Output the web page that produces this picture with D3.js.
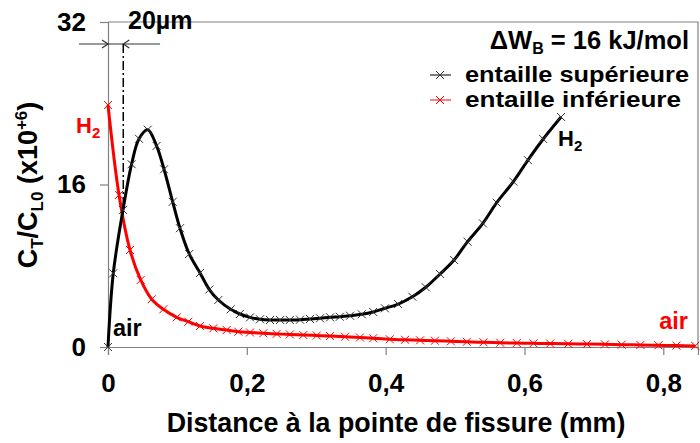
<!DOCTYPE html>
<html><head><meta charset="utf-8">
<script src="https://cdn.jsdelivr.net/npm/d3@7"></script>
<style>
body{margin:0;background:#fff}
svg{display:block}
text{font-family:"Liberation Sans",Arial,sans-serif;font-weight:bold}
</style>
</head><body>
<svg id="chart" width="700" height="443"></svg>
<script>
// ---- data ----
const supX = [0, 0.0076, 0.0216, 0.034, 0.0447, 0.0572, 0.070, 0.0807, 0.0932, 0.1037, 0.117, 0.1326, 0.146, 0.159, 0.1768, 0.190, 0.2046, 0.219, 0.2334, 0.248, 0.262, 0.2767, 0.291, 0.3055, 0.320, 0.334, 0.3487, 0.3656, 0.382, 0.399, 0.418, 0.4385, 0.4578, 0.4784, 0.4986, 0.518, 0.540, 0.560, 0.584, 0.605, 0.627, 0.6527];
const supY = [0, 7.26, 13.5, 18.0, 20.5, 21.4, 19.8, 17.5, 14.3, 11.7, 9.16, 7.29, 5.66, 4.63, 3.71, 3.25, 2.92, 2.73, 2.66, 2.66, 2.66, 2.69, 2.76, 2.83, 2.92, 2.98, 3.08, 3.22, 3.45, 3.81, 4.23, 4.95, 5.88, 7.19, 8.57, 10.37, 12.18, 14.21, 16.28, 18.4, 20.48, 22.65];
const infX = [0, 0.0159, 0.0317, 0.0471, 0.063, 0.0797, 0.099, 0.1157, 0.1326, 0.1517, 0.171, 0.1878, 0.2046, 0.2238, 0.243, 0.262, 0.2814, 0.3007, 0.320, 0.3415, 0.363, 0.382, 0.406, 0.428, 0.4496, 0.471, 0.494, 0.517, 0.541, 0.565, 0.589, 0.613, 0.637, 0.663, 0.690, 0.716, 0.740, 0.767, 0.793, 0.819, 0.846];
const infY = [23.83, 14.97, 9.55, 6.6, 4.7, 3.71, 2.92, 2.49, 2.07, 1.84, 1.67, 1.51, 1.43, 1.35, 1.29, 1.24, 1.18, 1.13, 1.08, 1.01, 0.94, 0.86, 0.76, 0.71, 0.66, 0.62, 0.56, 0.51, 0.46, 0.42, 0.39, 0.36, 0.34, 0.31, 0.29, 0.26, 0.23, 0.20, 0.17, 0.14, 0.11];
const xTicks = [0, 0.2, 0.4, 0.6, 0.8];
const xTickLabels = ["0", "0,2", "0,4", "0,6", "0,8"];
const yTicks = [0, 16, 32];
const yTickLabels = ["0", "16", "32"];
const seriesNames = ["entaille supérieure", "entaille inférieure"];
const notchWidth = 0.022;   // 20 µm marker position (mm)
const notchDepth = 13.6;    // where the dash-dot line stops

// ---- layout ----
const svg = d3.select("#chart");
const x = d3.scaleLinear().domain([0, 0.85]).range([108, 698]);
const y = d3.scaleLinear().domain([0, 32]).range([347, 22]);
const gray = "#808080";
const RED = "#ff0000";

// frame (top & right)
svg.append("path").attr("d", `M${x(0)},${y(32)}H${x(0.85)}V${y(0)}`)
  .attr("fill","none").attr("stroke",gray).attr("stroke-width",1.2);

// axes
const xAxis = d3.axisBottom(x).tickValues(xTicks).tickSize(8).tickFormat((d,i)=>xTickLabels[i]).tickPadding(19);
const gx = svg.append("g").attr("transform",`translate(0,${y(0)})`).call(xAxis);
const yAxis = d3.axisLeft(y).tickValues(yTicks).tickSize(8).tickFormat((d,i)=>yTickLabels[i]).tickPadding(14);
const gy = svg.append("g").attr("transform",`translate(${x(0)},0)`).call(yAxis);
[gx, gy].forEach(g => {
  g.select(".domain").attr("stroke",gray).attr("stroke-width",1.2);
  g.selectAll(".tick line").attr("stroke",gray).attr("stroke-width",1.2);
  g.selectAll(".tick text").style("font-family","'Liberation Sans',Arial,sans-serif")
    .style("font-weight","bold").style("font-size","26px").style("fill","#000");
});

// axis titles
svg.append("text").attr("x",396).attr("y",432).attr("text-anchor","middle")
  .style("font-size","26.8px").style("fill","#000").text("Distance à la pointe de fissure (mm)");

const yl = svg.append("text").attr("transform","translate(37,185) rotate(-90)")
  .attr("text-anchor","middle").style("font-size","27px").style("fill","#000");
yl.append("tspan").text("C");
yl.append("tspan").attr("dy",6).style("font-size","17px").text("T");
yl.append("tspan").attr("dy",-6).text("/C");
yl.append("tspan").attr("dy",6).style("font-size","17px").text("L0");
yl.append("tspan").attr("dy",-6).text(" (x10");
yl.append("tspan").attr("dy",-10).style("font-size","17px").text("+6");
yl.append("tspan").attr("dy",10).text(")");

// 20 µm annotation
svg.append("line").attr("x1",79).attr("x2",160).attr("y1",44).attr("y2",44)
  .attr("stroke","#333").attr("stroke-width",1.2);
svg.append("path").attr("d",`M${x(0)-6},40L${x(0)},44L${x(0)-6},48`).attr("fill","none").attr("stroke","#333").attr("stroke-width",1.2);
svg.append("path").attr("d",`M${x(notchWidth)+6},40L${x(notchWidth)},44L${x(notchWidth)+6},48`).attr("fill","none").attr("stroke","#333").attr("stroke-width",1.2);
svg.append("line").attr("x1",x(notchWidth)).attr("x2",x(notchWidth)).attr("y1",44).attr("y2",y(notchDepth))
  .attr("stroke","#000").attr("stroke-width",1.5).attr("stroke-dasharray","9,3,2,3");
svg.append("text").attr("x",128).attr("y",29).style("font-size","25px").style("fill","#000").text("20µm");

// curves
const line = d3.line().x(d=>x(d[0])).y(d=>y(d[1])).curve(d3.curveCatmullRom.alpha(0.5));
const sup = supX.map((v,i)=>[v,supY[i]]);
const inf = infX.map((v,i)=>[v,infY[i]]);
const plot = svg.append("g");

function cross(g, pts, color, sw){
  g.selectAll(null).data(pts).enter().append("path")
    .attr("d",d=>`M${x(d[0])-4},${y(d[1])-4}L${x(d[0])+4},${y(d[1])+4}M${x(d[0])-4},${y(d[1])+4}L${x(d[0])+4},${y(d[1])-4}`)
    .attr("stroke",color).attr("stroke-width",sw).attr("fill","none");
}
plot.append("path").datum(inf).attr("d",line).attr("fill","none").attr("stroke",RED).attr("stroke-width",3);
cross(plot, inf, RED, 1);
plot.append("path").datum(sup).attr("d",line).attr("fill","none").attr("stroke","#000").attr("stroke-width",3);
cross(plot, sup, "#333", 1);

// legend
const lg = svg.append("g");
const t0 = lg.append("text").attr("x",689).attr("y",49).attr("text-anchor","end").style("font-size","25.5px").style("fill","#000");
t0.append("tspan").text("ΔW");
t0.append("tspan").attr("dy",5).style("font-size","16px").text("B");
t0.append("tspan").attr("dy",-5).text(" = 16 kJ/mol");
const legColors = ["#000", RED];
const legWidths = [224, 216];
seriesNames.forEach((n,i)=>{
  const yy = 75 + i*25;
  lg.append("line").attr("x1",430).attr("x2",451).attr("y1",yy).attr("y2",yy).attr("stroke",legColors[i]).attr("stroke-width",1);
  lg.append("path").attr("d",`M436,${yy-4}L444,${yy+4}M436,${yy+4}L444,${yy-4}`).attr("stroke",i?RED:"#333").attr("stroke-width",1);
  lg.append("text").attr("x",465).attr("y",yy+6.5).style("font-size","22px").style("fill","#000")
    .attr("textLength",legWidths[i]).attr("lengthAdjust","spacingAndGlyphs").text(n);
});

// labels on curves
function h2(xp, yp, color){
  const t = svg.append("text").attr("x",xp).attr("y",yp).style("font-size","22px").style("fill",color);
  t.append("tspan").text("H");
  t.append("tspan").attr("dy",5).style("font-size","15px").text("2");
}
h2(76, 133, RED);
h2(558, 146, "#000");
svg.append("text").attr("x",113).attr("y",336).style("font-size","23.5px").style("fill","#000").text("air");
svg.append("text").attr("x",688).attr("y",329).attr("text-anchor","end").style("font-size","23.5px").style("fill",RED).text("air");
</script>
</body></html>
